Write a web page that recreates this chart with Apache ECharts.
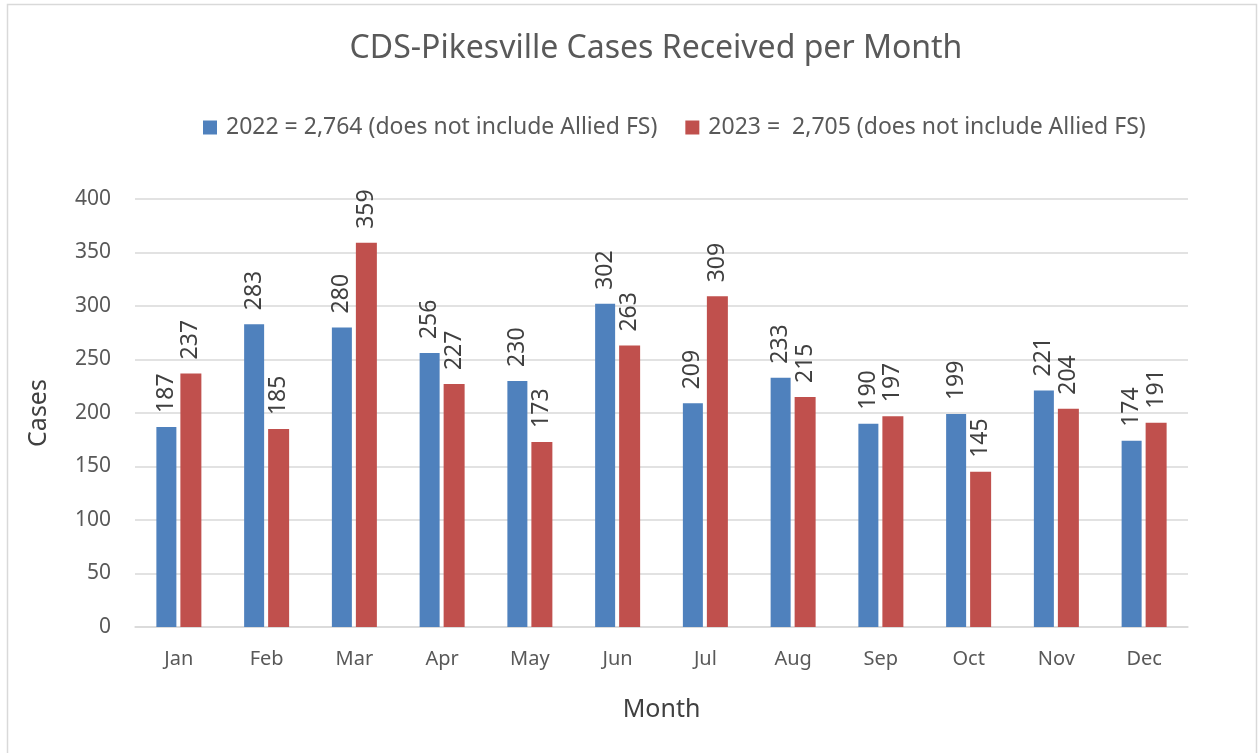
<!DOCTYPE html>
<html>
<head>
<meta charset="utf-8">
<script src="https://cdn.jsdelivr.net/npm/echarts@6/dist/echarts.min.js"></script>
<style>
  html, body { margin: 0; padding: 0; background: #fff; }
  #chart { width: 1258px; height: 753px; }
</style>
</head>
<body>
<div id="chart"></div>
<script>
var months = ['Jan', 'Feb', 'Mar', 'Apr', 'May', 'Jun', 'Jul', 'Aug', 'Sep', 'Oct', 'Nov', 'Dec']
var cases2022 = [187, 283, 280, 256, 230, 302, 209, 233, 190, 199, 221, 174]
var cases2023 = [237, 185, 359, 227, 173, 263, 309, 215, 197, 145, 204, 191]
var name2022 = '2022 = 2,764 (does not include Allied FS)'
var name2023 = '2023 =  2,705 (does not include Allied FS)'

var font = 'Noto Sans'
var textColor = '#595959'

var chart = echarts.init(document.getElementById('chart'))

var barLabel = {
  show: true,
  position: 'top',
  rotate: 90,
  align: 'left',
  verticalAlign: 'middle',
  distance: 14,
  color: '#404040',
  fontFamily: font,
  fontSize: 23
}

chart.setOption({
  backgroundColor: '#ffffff',
  animation: false,
  title: {
    text: 'CDS-Pikesville Cases Received per Month',
    left: 651,
    top: 28,
    textAlign: 'center',
    textStyle: {
      fontFamily: font,
      fontWeight: 'normal',
      fontSize: 32,
      color: textColor
    }
  },
  legend: {
    top: 111,
    left: 198,
    itemWidth: 14,
    itemHeight: 14,
    itemGap: 28,
    icon: 'rect',
    textStyle: {
      fontFamily: font,
      fontSize: 23,
      color: textColor,
      padding: [0, 0, 0, 4]
    },
    data: [name2022, name2023]
  },
  grid: {
    left: 135,
    right: 70,
    top: 199,
    bottom: 126,
    containLabel: false
  },
  xAxis: {
    type: 'category',
    data: months,
    name: 'Month',
    nameLocation: 'middle',
    nameGap: 70,
    nameTextStyle: {
      fontFamily: font,
      fontSize: 25,
      color: '#404040'
    },
    axisTick: { show: false },
    axisLine: { lineStyle: { color: '#D9D9D9', width: 1.5 } },
    axisLabel: {
      margin: 22,
      fontFamily: font,
      fontSize: 20,
      color: textColor
    }
  },
  yAxis: {
    type: 'value',
    min: 0,
    max: 400,
    interval: 50,
    name: 'Cases',
    nameLocation: 'middle',
    nameGap: 84,
    nameTextStyle: {
      fontFamily: font,
      fontSize: 25,
      color: '#404040'
    },
    axisLine: { show: false },
    axisTick: { show: false },
    axisLabel: {
      margin: 24,
      fontFamily: font,
      fontSize: 21,
      color: textColor
    },
    splitLine: { lineStyle: { color: '#D9D9D9', width: 1.5 } }
  },
  series: [
    {
      name: name2022,
      type: 'bar',
      data: cases2022,
      barWidth: 20,
      barGap: '20%',
      itemStyle: { color: '#4F81BD' },
      label: barLabel
    },
    {
      name: name2023,
      type: 'bar',
      data: cases2023,
      barWidth: 21,
      itemStyle: { color: '#C0504D' },
      label: barLabel
    }
  ],
  graphic: [
    {
      type: 'polyline',
      shape: { points: [[7.5, 753], [7.5, 4.5], [1256.5, 4.5], [1256.5, 753]] },
      style: { stroke: '#D9D9D9', lineWidth: 1.5, fill: null },
      silent: true
    }
  ]
})
</script>
</body>
</html>
